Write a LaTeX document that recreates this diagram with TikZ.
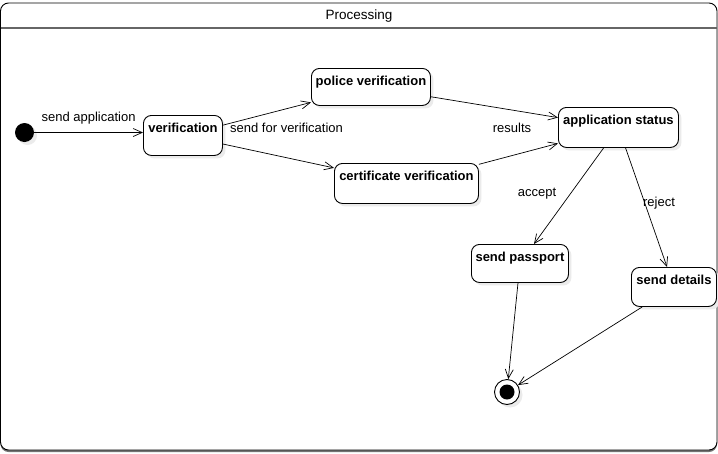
\documentclass[tikz,border=0pt]{standalone}
\usepackage{fontspec}
\setmainfont{Liberation Sans}
\usetikzlibrary{arrows.meta, shadows}

\tikzset{
  statebox/.style={draw, line width=0.9pt, rounded corners=8pt, fill=white,
    anchor=north west, inner xsep=2pt, inner ysep=4pt, align=center,
    font=\fontsize{13}{15}\selectfont\bfseries,
    text height=13.5pt, text depth=#1,
    drop shadow={shadow xshift=3pt, shadow yshift=-3pt, fill=black!8, opacity=1}},
  statebox/.default=18.5pt,
  flow/.style={line width=0.7pt, -{Straight Barb[length=9pt,width=8pt]}},
  edgelabel/.style={font=\fontsize{13}{15}\selectfont, inner sep=1pt}
}

\begin{document}
\begin{tikzpicture}[x=1pt, y=-1pt]
    \useasboundingbox (0,0) rectangle (718,453);

    % container
    \draw[line width=0.9pt, rounded corners=8pt, fill=white,
      drop shadow={shadow xshift=0pt, shadow yshift=-2pt, fill=black!55, opacity=1}]
      (0.5,3) rectangle (717,450);
    \draw[line width=1.2pt, black!60] (0.5,28) -- (717,28);
    \node[font=\fontsize{13.5}{15}\selectfont] (title) at (359,16) {Processing};

    % states
    \node[circle, fill=black, minimum size=19pt, inner sep=0pt,
      drop shadow={shadow xshift=3pt, shadow yshift=-3pt, fill=black!8, opacity=1}]
      (start) at (24.5,132.5) {};
    \node[statebox, minimum width=79pt] (verif) at (143,115) {verification};
    \node[statebox=15.5pt, minimum width=119pt] (police) at (311,68) {police verification};
    \node[statebox, minimum width=144pt] (cert) at (334,163) {certificate verification};
    \node[statebox, minimum width=120pt] (status) at (558,107) {application status};
    \node[statebox=16.5pt, minimum width=97pt] (passport) at (471,244) {send passport};
    \node[statebox=17.5pt, minimum width=85pt] (details) at (631,267) {send details};
    \node[circle, draw, line width=0.9pt, fill=white, minimum size=25pt, inner sep=0pt,
      drop shadow={shadow xshift=3pt, shadow yshift=-3pt, fill=black!8, opacity=1}]
      (stop) at (507,392) {};
    \node[circle, fill=black, minimum size=15pt, inner sep=0pt] (stopdot) at (stop) {};

    % transitions
    \draw[flow] (start) -- (start -| verif.west)
      node[edgelabel, midway, above=7pt] (lblsend) {send application};
    \draw[flow] (verif) -- (police);
    \draw[flow] (verif) -- (cert);
    \node[edgelabel, anchor=west] (lblfor) at (229,128) {send for verification};
    \draw[flow] (police) -- (status);
    \draw[flow] (cert) -- (status);
    \node[edgelabel] (lblres) at (512,128) {results};
    \draw[flow] (status) -- (passport);
    \node[edgelabel] (lblacc) at (537,194) {accept};
    \draw[flow] (status) -- (details);
    \node[edgelabel] (lblrej) at (659,203) {reject};
    \draw[flow] (passport) -- (stop);
    \draw[flow] (details) -- (stop);
\end{tikzpicture}
\end{document}
